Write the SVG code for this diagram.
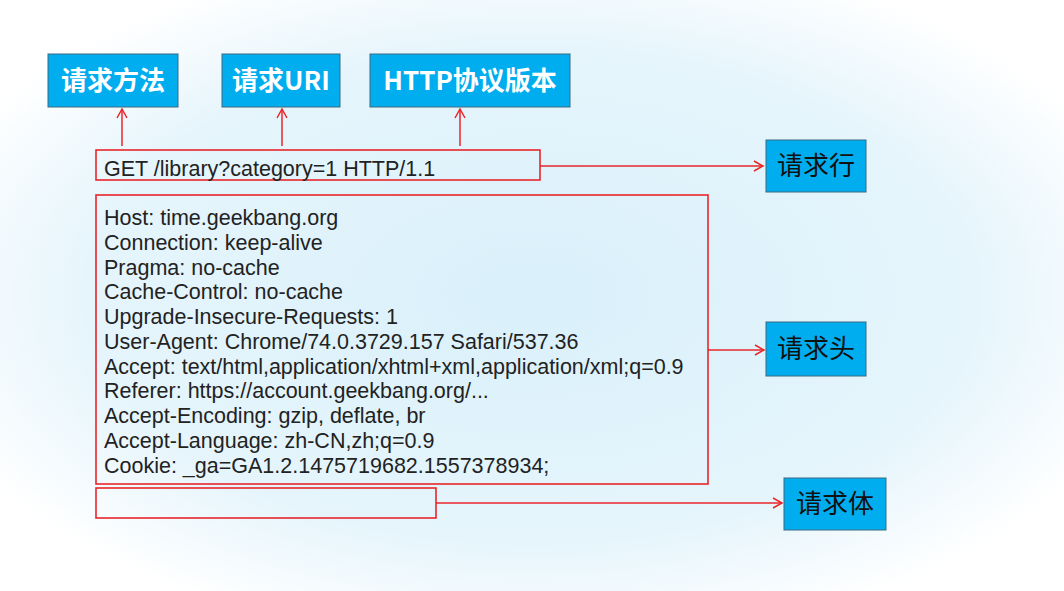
<svg xmlns="http://www.w3.org/2000/svg" width="1064" height="591" viewBox="0 0 1064 591">
<defs>
<radialGradient id="bg" cx="0.5" cy="0.5" r="0.6">
<stop offset="0" stop-color="#d9f0fa"/><stop offset="0.7" stop-color="#e6f5fc"/><stop offset="1" stop-color="#ffffff"/>
</radialGradient>
<marker id="ah" markerWidth="12" markerHeight="12" refX="10" refY="6" orient="auto" markerUnits="userSpaceOnUse">
<path d="M1,1 L10,6 L1,11" fill="none" stroke="#e8262a" stroke-width="1.5"/>
</marker>
<style>
.box{fill:#00adef;stroke:#3a6a80;stroke-width:1}
.wt{font-family:"Noto Sans CJK SC","Liberation Sans",sans-serif;font-size:26px;font-weight:bold;fill:#fff;text-anchor:middle}
.bt{font-family:"Noto Sans CJK SC","Liberation Sans",sans-serif;font-size:26px;fill:#111;text-anchor:middle}
.rb{fill:none;stroke:#e8262a;stroke-width:1.6}
.ln{stroke:#e8262a;stroke-width:1.5;fill:none;marker-end:url(#ah)}
.ht{font-family:"Liberation Sans",Arial,sans-serif;font-size:21.5px;fill:#222}
</style>
</defs>
<rect width="1064" height="591" fill="url(#bg)"/>
<g id="n-method"><rect class="box" x="48" y="54" width="130" height="53"/><text class="wt" x="113" y="90">请求方法</text></g>
<g id="n-uri"><rect class="box" x="222" y="54" width="118" height="53"/><text class="wt" x="281" y="90">请求URI</text></g>
<g id="n-version"><rect class="box" x="370" y="54" width="200" height="53"/><text class="wt" x="470" y="90">HTTP协议版本</text></g>
<g id="n-line"><rect class="box" x="766" y="140" width="100" height="52"/><text class="bt" x="816" y="175">请求行</text></g>
<g id="n-head"><rect class="box" x="766" y="322" width="100" height="54"/><text class="bt" x="816" y="358">请求头</text></g>
<g id="n-body"><rect class="box" x="784" y="478" width="102" height="52"/><text class="bt" x="835" y="513">请求体</text></g>
<g id="request-line"><rect class="rb" x="96" y="150" width="444" height="30"/><text class="ht" x="104" y="176">GET /library?category=1 HTTP/1.1</text></g>
<g id="request-headers"><rect class="rb" x="96" y="195" width="612" height="289"/>
<text class="ht" x="104" y="225">Host: time.geekbang.org</text>
<text class="ht" x="104" y="250">Connection: keep-alive</text>
<text class="ht" x="104" y="275">Pragma: no-cache</text>
<text class="ht" x="104" y="299">Cache-Control: no-cache</text>
<text class="ht" x="104" y="324">Upgrade-Insecure-Requests: 1</text>
<text class="ht" x="104" y="349">User-Agent: Chrome/74.0.3729.157 Safari/537.36</text>
<text class="ht" x="104" y="374">Accept: text/html,application/xhtml+xml,application/xml;q=0.9</text>
<text class="ht" x="104" y="398">Referer: https://account.geekbang.org/...</text>
<text class="ht" x="104" y="423">Accept-Encoding: gzip, deflate, br</text>
<text class="ht" x="104" y="448">Accept-Language: zh-CN,zh;q=0.9</text>
<text class="ht" x="104" y="473">Cookie: _ga=GA1.2.1475719682.1557378934;</text>
</g>
<g id="request-body"><rect class="rb" x="96" y="488" width="340" height="30"/></g>
<g id="connectors">
<line class="ln" x1="122" y1="146" x2="122" y2="109"/>
<line class="ln" x1="282" y1="146" x2="282" y2="109"/>
<line class="ln" x1="460" y1="146" x2="460" y2="109"/>
<line class="ln" x1="540" y1="166" x2="763" y2="166"/>
<line class="ln" x1="708" y1="350" x2="764" y2="350"/>
<line class="ln" x1="436" y1="503" x2="782" y2="503"/>
</g>
</svg>
